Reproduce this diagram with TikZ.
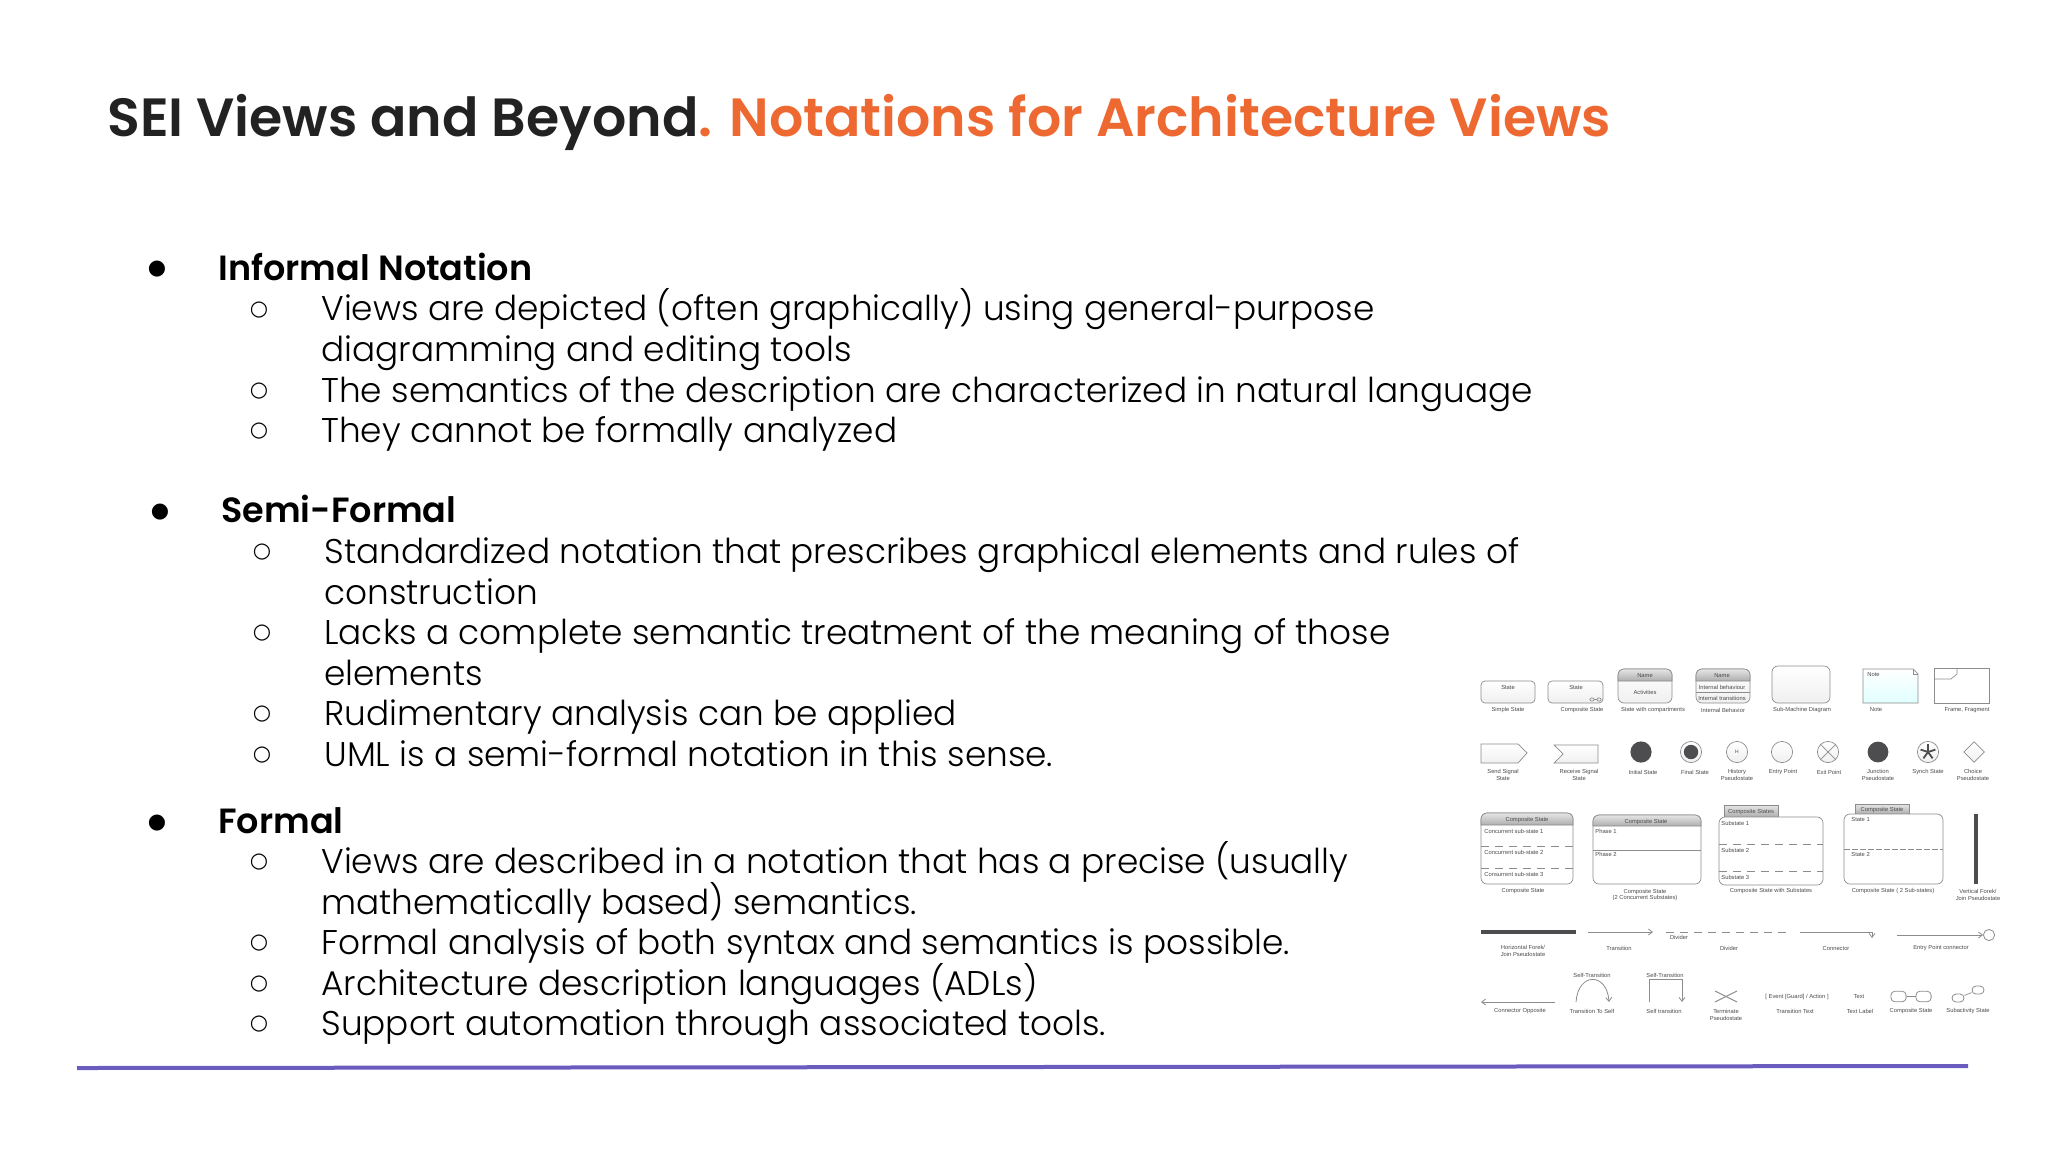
\documentclass[tikz,border=0pt]{standalone}
\usepackage{fontspec}
\usepackage{tikz}
\usetikzlibrary{arrows.meta,shapes.geometric}
\setmainfont{Poppins Light}[BoldFont=Poppins SemiBold]
\newfontfamily\bulletfont{DejaVu Sans}
\newfontfamily\palettefont{Liberation Sans}
\definecolor{titleorange}{HTML}{EE6831}
\definecolor{titleblack}{HTML}{222222}
\definecolor{rulepurple}{HTML}{6A5BBE}
\definecolor{umlline}{HTML}{8C8C8C}
\definecolor{umldark}{HTML}{4D4D50}
\definecolor{umltext}{HTML}{4A4A4A}
\AtBeginDocument{\lineskiplimit=-20pt\relax}
\tikzset{
    headline/.style={anchor=base west,inner sep=0pt,font=\fontsize{17.5}{20.25}\selectfont\bfseries},
    subline/.style={anchor=base west,inner sep=0pt,align=left,font=\fontsize{17.15}{20.25}\selectfont},
    bigdot/.style={anchor=center,inner sep=0pt,font=\fontsize{10.5}{12}\bulletfont},
    smalldot/.style={anchor=center,inner sep=0pt,font=\fontsize{10.5}{12}\bulletfont},
    umllabel/.style={inner sep=0pt,align=center,text=umltext,font=\fontsize{2.9}{3.3}\palettefont},
    umlleft/.style={umllabel,anchor=west},
    umlbox/.style={draw=umlline,line width=0.35pt,top color=white,bottom color=black!6},
    umlhead/.style={draw=umlline,line width=0.35pt,top color=black!10,bottom color=black!32},
    umlplain/.style={draw=umlline,line width=0.35pt},
    umldash/.style={draw=umlline,line width=0.45pt,dash pattern=on 4pt off 3pt},
    umlarrow/.style={draw=umlline,line width=0.4pt,-{Straight Barb[length=2pt,width=3pt]}},
    umlcircle/.style={circle,draw=umlline,line width=0.35pt,inner sep=0pt,top color=white,bottom color=black!6},
    umldot/.style={circle,fill=umldark,inner sep=0pt}
}
\begin{document}
\begin{tikzpicture}[x=0.5pt,y=-0.5pt]
\useasboundingbox (0,0) rectangle (2048,1152);

\node[anchor=base west,inner sep=0pt,text=titleblack,font=\fontsize{26.9}{32}\selectfont\bfseries] (title) at (107,136)
    {SEI Views and Beyond\textcolor{titleorange}{. Notations for Architecture Views}};

\node[bigdot] (dota) at (157,269) {●};
\node[headline] (informal) at (218,280) {Informal Notation};
\node[smalldot] (dotb) at (259,310) {○};
\node[subline] (viewsdepicted) at (321,361) {Views are depicted (often graphically) using general-purpose\\diagramming and editing tools};
\node[smalldot] (dotc) at (259,391) {○};
\node[subline] (semantics) at (321,402) {The semantics of the description are characterized in natural language};
\node[smalldot] (dotd) at (259,431) {○};
\node[subline] (noanalysis) at (321,442) {They cannot be formally analyzed};

\node[bigdot] (dote) at (160,512) {●};
\node[headline] (semiformal) at (221,522) {Semi-Formal};
\node[smalldot] (dotf) at (262,552) {○};
\node[subline] (standard) at (324,604) {Standardized notation that prescribes graphical elements and rules of\\construction};
\node[smalldot] (dotg) at (262,633) {○};
\node[subline] (lacks) at (324,685) {Lacks a complete semantic treatment of the meaning of those\\elements};
\node[smalldot] (doth) at (262,714) {○};
\node[subline] (rudimentary) at (324,725) {Rudimentary analysis can be applied};
\node[smalldot] (doti) at (262,755) {○};
\node[subline] (umlsemi) at (324,766) {UML is a semi-formal notation in this sense.};

\node[bigdot] (dotj) at (157,823) {●};
\node[headline] (formal) at (218,833) {Formal};
\node[smalldot] (dotk) at (259,862) {○};
\node[subline] (viewsprecise) at (321,914) {Views are described in a notation that has a precise (usually\\mathematically based) semantics.};
\node[smalldot] (dotl) at (259,943) {○};
\node[subline] (formalanalysis) at (321,954) {Formal analysis of both syntax and semantics is possible.};
\node[smalldot] (dotm) at (259,984) {○};
\node[subline] (adls) at (321,995) {Architecture description languages (ADLs)};
\node[smalldot] (dotn) at (259,1024) {○};
\node[subline] (automation) at (321,1035) {Support automation through associated tools.};

\coordinate (rulea) at (77,1068);
\coordinate (ruleb) at (1968,1066);
\draw[rulepurple,line width=2pt] (rulea) -- (ruleb);

% first row of the palette
\draw[umlbox,rounded corners=2pt] (1481,681) rectangle (1535,703);
\node[umllabel] (simpletext) at (1508,687) {State};
\node[umllabel] (simplelabel) at (1508,710) {Simple State};
\draw[umlbox,rounded corners=2pt] (1548,681) rectangle (1603,703);
\node[umllabel] (comptext) at (1576,687) {State};
\draw[umlplain,rounded corners=0.6pt] (1590,698) rectangle (1594,701);
\draw[umlplain,rounded corners=0.6pt] (1597,698) rectangle (1601,701);
\draw[umlplain] (1594,699.5) -- (1597,699.5);
\node[umllabel] (complabel) at (1582,710) {Composite State};

\draw[umlbox,rounded corners=3pt] (1618,669) rectangle (1672,703);
\draw[umlhead,rounded corners=3pt] (1618,681) |- (1672,669) [sharp corners] -- (1672,681) -- cycle;
\node[umllabel] (nametext) at (1645,676) {Name};
\node[umllabel] (activities) at (1645,692) {Activities};
\node[umllabel] (actlabel) at (1653,710) {State with compartments};

\draw[umlbox,rounded corners=3pt] (1696,669) rectangle (1750,703);
\draw[umlhead,rounded corners=3pt] (1696,681) |- (1750,669) [sharp corners] -- (1750,681) -- cycle;
\draw[umlplain] (1696,692) -- (1750,692);
\node[umllabel] (nameb) at (1722,676) {Name};
\node[umllabel] (behaviour) at (1722,687) {Internal behaviour};
\node[umllabel] (transitions) at (1722,698) {Internal transitions};
\node[umllabel] (behavlabel) at (1723,710) {Internal Behavior};

\draw[umlbox,rounded corners=3pt] (1772,666) rectangle (1830,703);
\node[umllabel] (sublabel) at (1802,710) {Sub-Machine Diagram};

\draw[draw=umlline,line width=0.35pt,top color=white,bottom color=cyan!12] (1863,669) -- (1913,669) -- (1918,674) -- (1918,703) -- (1863,703) -- cycle;
\draw[umlplain] (1913,669) -- (1913,674) -- (1918,674);
\node[umlleft] (notetext) at (1867,675) {Note};
\node[umllabel] (notelabel) at (1876,710) {Note};

\draw[umlplain] (1934,668) rectangle (1989,703);
\draw[umlplain] (1934,679) -- (1951,679) -- (1957,674) -- (1957,668);
\node[umllabel] (framelabel) at (1967,710) {Frame, Fragment};

% second row
\draw[umlbox] (1481,744) -- (1518,744) -- (1527,753) -- (1518,763) -- (1481,763) -- cycle;
\node[umllabel] (sendlabel) at (1503,775) {Send Signal\\State};
\draw[umlbox] (1554,745) -- (1598,745) -- (1598,763) -- (1554,763) -- (1563,754) -- cycle;
\node[umllabel] (receivelabel) at (1579,775) {Receive Signal\\State};
\node[umldot,minimum size=10.6pt] (initial) at (1641,752) {};
\node[umllabel] (initiallabel) at (1643,772) {Initial State};
\node[umlcircle,minimum size=10.6pt] (finalring) at (1691,752) {};
\node[umldot,minimum size=7.2pt] (finaldot) at (1691,752) {};
\node[umllabel] (finallabel) at (1695,772) {Final State};
\node[umlcircle,minimum size=10.6pt,text=umltext,font=\fontsize{2.5}{3}\palettefont] (history) at (1737,752) {H};
\node[umllabel] (historylabel) at (1737,775) {History\\Pseudostate};
\node[umlcircle,minimum size=10.6pt] (entry) at (1782,752) {};
\node[umllabel] (entrylabel) at (1783,772) {Entry Point};
\node[umlcircle,minimum size=10.6pt] (exit) at (1828,752) {};
\draw[umlplain] (exit.north west) -- (exit.south east);
\draw[umlplain] (exit.north east) -- (exit.south west);
\node[umllabel] (exitlabel) at (1829,772) {Exit Point};
\node[umldot,minimum size=10.4pt] (junction) at (1878,752) {};
\node[umllabel] (junctionlabel) at (1878,775) {Junction\\Pseudostate};
\node[umlcircle,minimum size=10.6pt] (synch) at (1928,752) {};
\foreach \ang in {90,18,-54,-126,162}
    \draw[umldark,line width=0.9pt] (synch.center) -- ++(\ang:3.9pt);
\node[umllabel] (synchlabel) at (1928,772) {Synch State};
\node[diamond,draw=umlline,line width=0.35pt,top color=white,bottom color=black!6,inner sep=0pt,minimum size=10.4pt] (choice) at (1974,752) {};
\node[umllabel] (choicelabel) at (1973,775) {Choice\\Pseudostate};

% third row
\draw[umlplain,fill=white,rounded corners=3pt] (1481,813) rectangle (1573,884);
\draw[umlhead,rounded corners=3pt] (1481,825) |- (1573,813) [sharp corners] -- (1573,825) -- cycle;
\draw[umldash] (1481,846) -- (1573,846);
\draw[umldash] (1481,868) -- (1573,868);
\node[umllabel] (csatitle) at (1527,820) {Composite State};
\node[umlleft] (csaone) at (1484,831) {Concurrent sub-state 1};
\node[umlleft] (csatwo) at (1484,852) {Concurrent sub-state 2};
\node[umlleft] (csathree) at (1484,874) {Consurrent sub-state 3};
\node[umllabel] (csalabel) at (1523,891) {Composite State};

\draw[umlplain,fill=white,rounded corners=3pt] (1593,815) rectangle (1701,884);
\draw[umlhead,rounded corners=3pt] (1593,826) |- (1701,815) [sharp corners] -- (1701,826) -- cycle;
\draw[umlplain] (1593,850) -- (1701,850);
\node[umllabel] (csbtitle) at (1646,822) {Composite State};
\node[umlleft] (csbone) at (1595,831) {Phase 1};
\node[umlleft] (csbtwo) at (1595,854) {Phase 2};
\node[umllabel] (csblabel) at (1645,895) {Composite State\\(2 Concurrent Substates)};

\draw[umlhead] (1724,817) |- (1778,805) -- (1778,817);
\draw[umlplain,fill=white,rounded corners=3pt] (1719,817) rectangle (1823,885);
\draw[umldash] (1719,844) -- (1823,844);
\draw[umldash] (1719,871) -- (1823,871);
\node[umllabel] (csctitle) at (1751,812) {Composite States};
\node[umlleft] (cscone) at (1721,823) {Substate 1};
\node[umlleft] (csctwo) at (1721,850) {Substate 2};
\node[umlleft] (cscthree) at (1721,877) {Substate 3};
\node[umllabel] (csclabel) at (1771,891) {Composite State with Substates};

\draw[umlhead] (1855,814) |- (1909,804) -- (1909,814);
\draw[umlplain,fill=white,rounded corners=3pt] (1844,814) rectangle (1943,884);
\draw[umldash,dash pattern=on 3pt off 1pt] (1844,849) -- (1943,849);
\node[umllabel] (csdtitle) at (1882,810) {Composite State};
\node[umlleft] (csdone) at (1851,819) {State 1};
\node[umlleft] (csdtwo) at (1851,854) {State 2};
\node[umllabel] (csdlabel) at (1893,891) {Composite State ( 2 Sub-states)};

\coordinate (forkatop) at (1976,814);
\coordinate (forkabot) at (1976,884);
\draw[umldark,line width=1.7pt] (forkatop) -- (forkabot);
\node[umllabel] (forkalabel) at (1978,895) {Vertical Forek/\\Join Pseudostate};

% fourth row
\coordinate (forkbleft) at (1481,932);
\coordinate (forkbright) at (1576,932);
\draw[umldark,line width=1.8pt] (forkbleft) -- (forkbright);
\node[umllabel] (forkblabel) at (1523,951) {Horizontal Forek/\\Join Pseudostate};
\coordinate (transa) at (1588,932);
\coordinate (transb) at (1653,932);
\draw[umlarrow] (transa) -- (transb);
\node[umllabel] (translabel) at (1619,948) {Transition};
\coordinate (diva) at (1666,932);
\coordinate (divb) at (1787,932);
\draw[umldash] (diva) -- (divb);
\node[umllabel] (divtext) at (1679,937) {Divider};
\node[umllabel] (divlabel) at (1729,948) {Divider};
\coordinate (conna) at (1800,932);
\coordinate (connb) at (1872,932);
\coordinate (connc) at (1872,938);
\draw[umlarrow] (conna) -- (connb) -- (connc);
\node[umllabel] (connlabel) at (1836,948) {Connector};
\node[circle,draw=umlline,line width=0.4pt,inner sep=0pt,minimum size=5.6pt] (entryend) at (1989,935) {};
\coordinate (entrystart) at (1897,935);
\draw[umlarrow] (entrystart) -- (entryend);
\node[umllabel] (entryconn) at (1941,948) {Entry Point connector};

% fifth row
\coordinate (oppa) at (1555,1002);
\coordinate (oppb) at (1481,1002);
\draw[umlarrow] (oppa) -- (oppb);
\node[umllabel] (opplabel) at (1520,1011) {Connector Opposite};
\coordinate (selfa) at (1576,1002);
\coordinate (selfb) at (1609,1002);
\draw[umlarrow] (selfa) .. controls (1578,972) and (1607,972) .. (selfb);
\node[umllabel] (selftext) at (1592,975) {Self-Transition};
\node[umllabel] (selflabel) at (1592,1011) {Transition To Self};
\coordinate (boxa) at (1649,1002);
\coordinate (boxb) at (1682,1002);
\draw[umlarrow] (boxa) |- (1682,979) -- (boxb);
\node[umllabel] (boxtext) at (1665,975) {Self-Transition};
\node[umllabel] (boxlabel) at (1664,1011) {Self transition};
\draw[umlplain,line width=0.5pt] (1715,991) -- (1737,1002);
\draw[umlplain,line width=0.5pt] (1715,1002) -- (1737,991);
\node[umllabel] (termlabel) at (1726,1015) {Terminate\\Pseudostate};
\node[umllabel] (eventtext) at (1797,997) {[ Event [Guard] / Action ]};
\node[umllabel] (eventlabel) at (1795,1011) {Transition Text};
\node[umllabel] (texttext) at (1859,997) {Text};
\node[umllabel] (textlabel) at (1860,1011) {Text Label};
\node[rectangle,rounded corners=2pt,draw=umlline,line width=0.4pt,inner sep=0pt,minimum width=7.6pt,minimum height=5.3pt] (stataa) at (1898.5,996.5) {};
\node[rectangle,rounded corners=2pt,draw=umlline,line width=0.4pt,inner sep=0pt,minimum width=7.6pt,minimum height=5.3pt] (statab) at (1923.5,996.5) {};
\draw[umlplain] (stataa) -- (statab);
\node[umllabel] (statlabel) at (1911,1011) {Composite State};
\node[rectangle,rounded corners=2pt,draw=umlline,line width=0.4pt,inner sep=0pt,minimum width=6pt,minimum height=4pt] (subaa) at (1958,998) {};
\node[rectangle,rounded corners=2pt,draw=umlline,line width=0.4pt,inner sep=0pt,minimum width=6pt,minimum height=4pt] (subab) at (1978,990) {};
\draw[umlplain] (subaa) -- (subab);
\node[umllabel] (subalabel) at (1968,1011) {Subactivity State};
\end{tikzpicture}
\end{document}
